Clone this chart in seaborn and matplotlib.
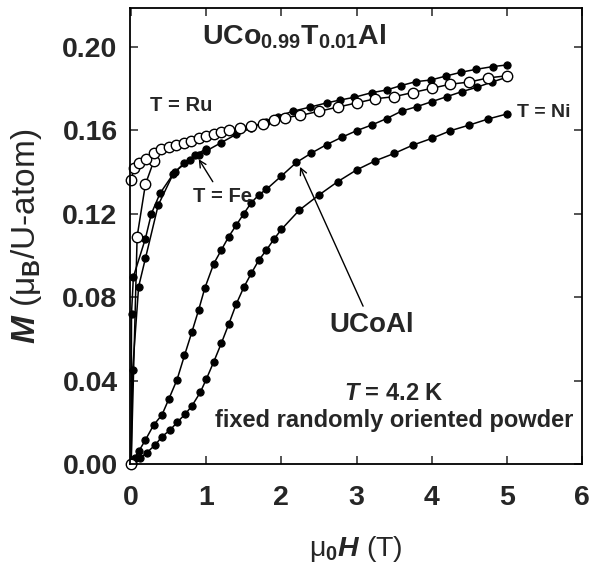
import matplotlib
matplotlib.use("Agg")
import matplotlib.pyplot as plt
import seaborn as sns
import pandas as pd

# Magnetization isotherms at 4.2 K: field mu0H (T) vs M (muB per U atom)
h_ucoal = [0, 0.05, 0.1, 0.19, 0.3, 0.41, 0.5, 0.61, 0.71, 0.81, 0.9, 0.98, 1.1, 1.2,
           1.3, 1.4, 1.5, 1.6, 1.7, 1.8, 2.0, 2.2, 2.4, 2.6, 2.8, 3.0, 3.2, 3.4, 3.6,
           3.8, 4.0, 4.2, 4.4, 4.6, 4.8, 5.0]
m_ucoal = [0, 0.003, 0.006, 0.0115, 0.0187, 0.0235, 0.031, 0.0403, 0.052, 0.0634, 0.074,
           0.0842, 0.096, 0.1025, 0.109, 0.1145, 0.120, 0.1252, 0.129, 0.1316, 0.138,
           0.1445, 0.149, 0.153, 0.1565, 0.1597, 0.1624, 0.1655, 0.1691, 0.1712, 0.1736,
           0.176, 0.1784, 0.1805, 0.183, 0.1853]

h_ni = [0, 0.03, 0.12, 0.21, 0.32, 0.41, 0.52, 0.61, 0.72, 0.81, 0.92, 1.0, 1.1, 1.2,
        1.3, 1.4, 1.5, 1.6, 1.7, 1.8, 1.9, 2.0, 2.24, 2.5, 2.75, 3.0, 3.25, 3.5, 3.75,
        4.0, 4.25, 4.5, 4.75, 5.0]
m_ni = [0, 0.0005, 0.0027, 0.0055, 0.0091, 0.0131, 0.0163, 0.0199, 0.0239, 0.0279,
        0.0343, 0.0406, 0.049, 0.0578, 0.0671, 0.0767, 0.0847, 0.0914, 0.0977, 0.1025,
        0.1077, 0.1124, 0.1217, 0.1289, 0.1353, 0.1409, 0.1453, 0.1488, 0.1528, 0.156,
        0.1597, 0.1624, 0.1653, 0.1677]

h_fe = [0, 0.005, 0.03, 0.19, 0.27, 0.385, 0.58, 0.78, 0.9, 1.0, 1.2, 1.4, 1.6, 1.8,
        1.95, 2.15, 2.38, 2.6, 2.78, 2.97, 3.2, 3.4, 3.59, 3.79, 3.99, 4.19, 4.39, 4.59,
        4.81, 5.0]
m_fe = [0, 0.072, 0.0897, 0.108, 0.120, 0.1297, 0.140, 0.1457, 0.148, 0.150, 0.154,
        0.158, 0.161, 0.164, 0.1665, 0.169, 0.171, 0.173, 0.1744, 0.1757, 0.1779,
        0.1792, 0.1813, 0.1832, 0.184, 0.1859, 0.1877, 0.1891, 0.1904, 0.1912]

h_fe_b = [0, 0.02, 0.1, 0.19, 0.36, 0.56, 0.7, 0.85, 1.0]
m_fe_b = [0, 0.045, 0.085, 0.0985, 0.124, 0.139, 0.144, 0.148, 0.151]

h_ru = [0, 0.04, 0.1, 0.2, 0.3, 0.4, 0.5, 0.6, 0.7, 0.8, 0.9, 1.0, 1.1, 1.2, 1.3, 1.45,
        1.6, 1.75, 1.9, 2.05, 2.25, 2.5, 2.75, 3.0, 3.25, 3.5, 3.75, 4.0, 4.25, 4.5,
        4.75, 5.0]
m_ru = [0.136, 0.142, 0.144, 0.146, 0.149, 0.151, 0.152, 0.153, 0.154, 0.155, 0.156,
        0.157, 0.158, 0.159, 0.160, 0.161, 0.162, 0.163, 0.165, 0.166, 0.167, 0.169,
        0.171, 0.173, 0.175, 0.176, 0.178, 0.180, 0.182, 0.183, 0.185, 0.186]

h_ru_b = [0, 0.08, 0.19, 0.3]
m_ru_b = [0, 0.109, 0.134, 0.145]

x_ticks = [0, 1, 2, 3, 4, 5, 6]
y_ticks = [0.0, 0.04, 0.08, 0.12, 0.16, 0.20]
y_tick_labels = ["0.00", "0.04", "0.08", "0.12", "0.16", "0.20"]

sns.set_style("ticks")
plt.rcParams.update({
    "font.family": ["Liberation Sans", "DejaVu Sans"],
    "font.weight": "bold",
    "mathtext.fontset": "custom",
    "mathtext.rm": "Liberation Sans:bold",
    "mathtext.it": "Liberation Sans:italic:bold",
    "mathtext.bf": "Liberation Sans:bold",
    "axes.linewidth": 1.3,
    "axes.edgecolor": "black",
    "xtick.direction": "in",
    "ytick.direction": "in",
    "xtick.major.size": 6,
    "ytick.major.size": 6,
    "xtick.major.width": 1.1,
    "ytick.major.width": 1.1,
    "xtick.top": True,
    "ytick.right": True,
})

fig = plt.figure(figsize=(5.92, 5.70), dpi=100)
ax = fig.add_axes([0.2196, 0.186, 0.7635, 0.800])

filled = dict(color="black", marker="o", markersize=5.2, markerfacecolor="black",
              markeredgecolor="black", linewidth=1.1, estimator=None, clip_on=False)
hollow = dict(color="black", marker="o", markersize=7.5, markerfacecolor="white",
              markeredgecolor="black", markeredgewidth=1.0, linewidth=1.1,
              estimator=None, clip_on=False)

for h, m in [(h_ni, m_ni), (h_ucoal, m_ucoal), (h_fe_b, m_fe_b), (h_fe, m_fe)]:
    sns.lineplot(data=pd.DataFrame({"H": h, "M": m}), x="H", y="M", ax=ax, **filled)
for h, m in [(h_ru_b, m_ru_b), (h_ru, m_ru)]:
    sns.lineplot(data=pd.DataFrame({"H": h, "M": m}), x="H", y="M", ax=ax, **hollow)

ax.set_xlim(-0.015, 6.0)
ax.set_ylim(0, 0.2185)
ax.set_xticks(x_ticks)
ax.set_xticklabels([str(t) for t in x_ticks])
ax.set_yticks(y_ticks)
ax.set_yticklabels(y_tick_labels)
ax.tick_params(axis="x", labelsize=20.5, pad=15)
ax.tick_params(axis="y", labelsize=20.5, pad=9)
for lab in ax.get_xticklabels() + ax.get_yticklabels():
    lab.set_fontweight("bold")

ax.set_xlabel(r"μ$_0$$H$ (T)", fontsize=20.5, labelpad=17)
ax.set_ylabel(r"$M$ (μ$_\mathrm{B}$/U-atom)", fontsize=24, labelpad=13)

ax.text(2.17, 0.2008, r"UCo$_{0.99}$T$_{0.01}$Al", fontsize=20.5, ha="center",
        va="baseline", fontweight="bold")
ax.text(0.25, 0.172, "T = Ru", fontsize=14.5, ha="left", va="center", fontweight="bold")
ax.text(5.13, 0.1684, "T = Ni", fontsize=14, ha="left", va="center", fontweight="bold")
ax.text(3.5, 0.034, r"$T$ = 4.2 K", fontsize=17, ha="center", va="center",
        fontweight="bold")
ax.text(3.5, 0.021, "fixed randomly oriented powder", fontsize=17, ha="center",
        va="center", fontweight="bold")

arrow = dict(arrowstyle="->", color="black", lw=1.0, mutation_scale=12,
             shrinkA=2, shrinkB=1)
ax.annotate("T = Fe", xy=(0.89, 0.1466), xytext=(0.82, 0.128), fontsize=14.5,
            ha="left", va="center", fontweight="bold", arrowprops=arrow)
ax.annotate("UCoAl", xy=(2.24, 0.143), xytext=(3.2, 0.0666), fontsize=20,
            ha="center", va="center", fontweight="bold", arrowprops=arrow)

fig.savefig("out.png", dpi=100)
